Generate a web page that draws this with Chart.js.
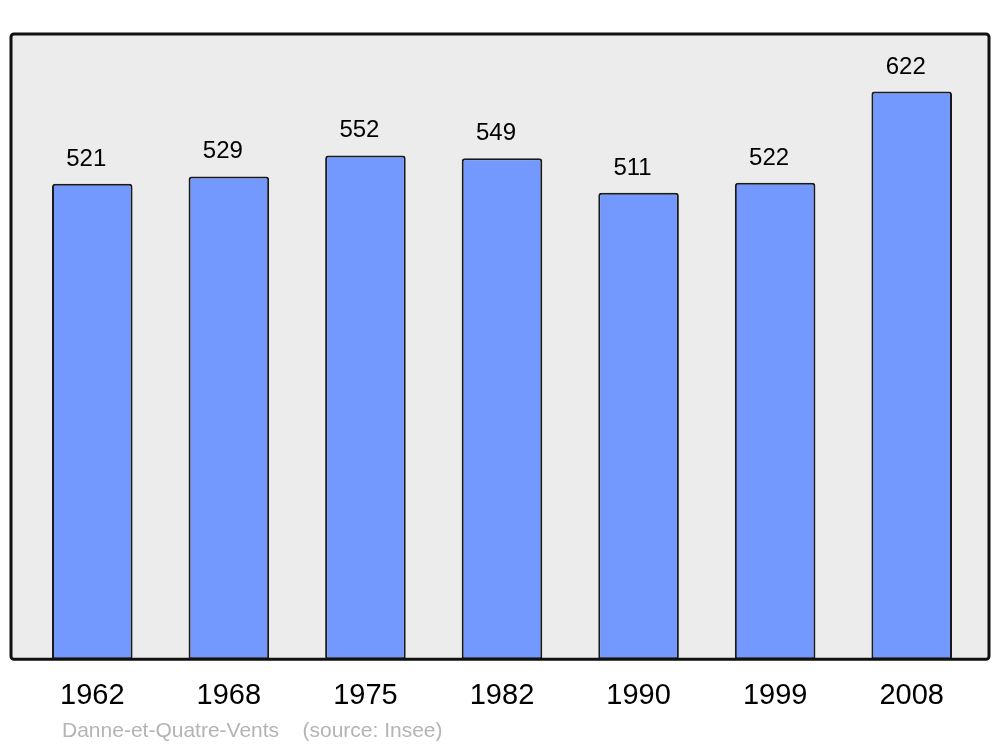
<!DOCTYPE html>
<html>
<head>
<meta charset="utf-8">
<script src="https://cdn.jsdelivr.net/npm/chart.js@4"></script>
<style>
  html, body { margin: 0; padding: 0; background: #ffffff; }
  #wrap { width: 1000px; height: 747px; }
</style>
</head>
<body>
<div id="wrap"><canvas id="chart" width="1000" height="747"></canvas></div>
<script>
const years = ['1962', '1968', '1975', '1982', '1990', '1999', '2008'];
const population = [521, 529, 552, 549, 511, 522, 622];
const sourceText = 'Danne-et-Quatre-Vents    (source: Insee)';

// grey frame behind the bars
const framePlugin = {
    id: 'frame',
    beforeDatasetsDraw(chart) {
        const { ctx, chartArea } = chart;
        const x = chartArea.left - 13;
        const y = chartArea.top;
        const w = chartArea.right + 9 - x;
        const h = chartArea.bottom - y;
        ctx.save();
        ctx.beginPath();
        ctx.roundRect(x, y, w, h, 3);
        ctx.fillStyle = '#ececec';
        ctx.fill();
        ctx.restore();
    },
    afterDatasetsDraw(chart) {
        const { ctx, chartArea } = chart;
        const x = chartArea.left - 13;
        const y = chartArea.top;
        const w = chartArea.right + 9 - x;
        const h = chartArea.bottom - y;
        ctx.save();
        ctx.beginPath();
        ctx.roundRect(x, y, w, h, 3);
        ctx.lineWidth = 3;
        ctx.strokeStyle = '#111111';
        ctx.stroke();

        // values above each bar
        ctx.font = '24px "Liberation Sans", Arial, sans-serif';
        ctx.fillStyle = '#000000';
        ctx.textAlign = 'center';
        ctx.textBaseline = 'alphabetic';
        chart.getDatasetMeta(0).data.forEach((bar, i) => {
            ctx.fillText(String(population[i]), bar.x - 6, bar.y - 18);
        });

        // source line
        ctx.font = '21px "Liberation Sans", Arial, sans-serif';
        ctx.fillStyle = '#b4b4b4';
        ctx.textAlign = 'left';
        ctx.fillText(sourceText, 62, 737);
        ctx.restore();
    }
};

const ctx = document.getElementById('chart').getContext('2d');
new Chart(ctx, {
    type: 'bar',
    data: {
        labels: years,
        datasets: [{
            data: population,
            backgroundColor: '#7399ff',
            borderColor: '#1a1a1a',
            borderWidth: 2,
            borderSkipped: false,
            borderRadius: { topLeft: 3, topRight: 3, bottomLeft: 2, bottomRight: 2 },
            categoryPercentage: 1,
            barPercentage: 0.59
        }]
    },
    options: {
        responsive: false,
        animation: false,
        layout: { padding: { top: 34, left: 24, right: 20, bottom: 15 } },
        plugins: {
            legend: { display: false },
            tooltip: { enabled: false }
        },
        scales: {
            x: {
                grid: { display: false, drawTicks: false },
                border: { display: false },
                ticks: {
                    color: '#000000',
                    padding: 19,
                    font: { size: 29, family: '"Liberation Sans", Arial, sans-serif' }
                }
            },
            y: {
                display: false,
                min: 0,
                max: 685
            }
        }
    },
    plugins: [framePlugin]
});
</script>
</body>
</html>
